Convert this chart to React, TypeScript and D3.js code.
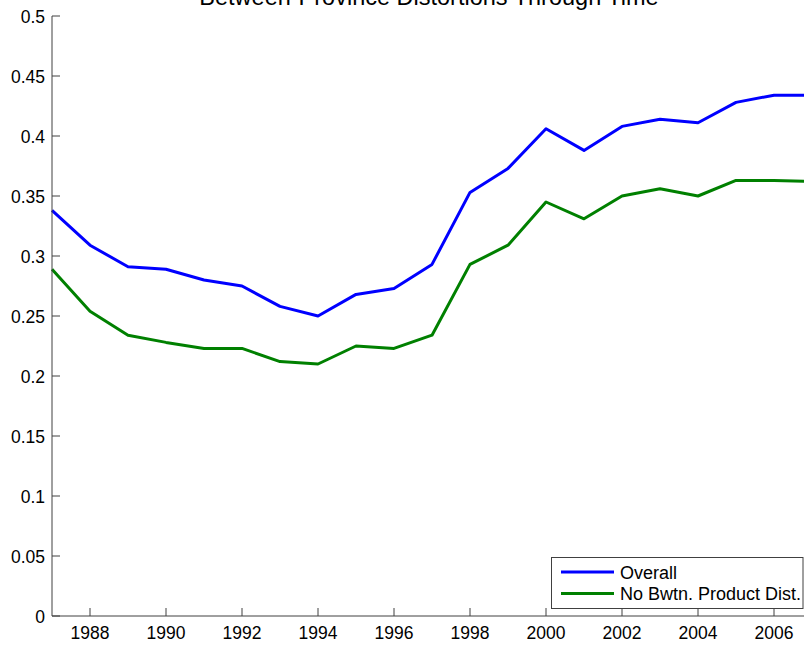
import React from "react";
import * as d3 from "d3";

const years = [1987, 1988, 1989, 1990, 1991, 1992, 1993, 1994, 1995, 1996, 1997, 1998, 1999, 2000, 2001, 2002, 2003, 2004, 2005, 2006, 2007];
const overall = [0.338, 0.309, 0.291, 0.289, 0.280, 0.275, 0.258, 0.250, 0.268, 0.273, 0.293, 0.353, 0.373, 0.406, 0.388, 0.408, 0.414, 0.411, 0.428, 0.434, 0.434];
const noBwtn = [0.289, 0.254, 0.234, 0.228, 0.223, 0.223, 0.212, 0.210, 0.225, 0.223, 0.234, 0.293, 0.309, 0.345, 0.331, 0.350, 0.356, 0.350, 0.363, 0.363, 0.362];
const xTicks = [1988, 1990, 1992, 1994, 1996, 1998, 2000, 2002, 2004, 2006];
const yTicks = [0, 0.05, 0.1, 0.15, 0.2, 0.25, 0.3, 0.35, 0.4, 0.45, 0.5];
const seriesNames = ["Overall", "No Bwtn. Product Dist."];
const seriesColors = ["#0000ff", "#008000"];
const title = "Between-Province Distortions Through Time";

export default function App() {
  const W = 804, H = 645;
  const left = 52, right = 812, top = 16, bottom = 616;
  const x = d3.scaleLinear().domain([1987, 2007]).range([left, right]);
  const y = d3.scaleLinear().domain([0, 0.5]).range([bottom, top]);
  const line = d3.line<number>().x((_, i) => x(years[i])).y((d) => y(d));
  const series = [overall, noBwtn];
  const font = "'Liberation Sans', Arial, Helvetica, sans-serif";
  const axisColor = "#404040";
  return (
    <svg width={W} height={H} style={{ position: "absolute", left: 0, top: 0, background: "#fff" }} fontFamily={font}>
      <rect x={0} y={0} width={W} height={H} fill="#fff" />
      <text x={429} y={5} textAnchor="middle" fontSize={23.5} fill="#000">{title}</text>
      {series.map((s, i) => (
        <path key={i} d={line(s) || ""} fill="none" stroke={seriesColors[i]} strokeWidth={3} strokeLinejoin="round" />
      ))}
      <line x1={left} x2={left} y1={top} y2={bottom} stroke={axisColor} strokeWidth={1} />
      <line x1={left} x2={right} y1={bottom} y2={bottom} stroke={axisColor} strokeWidth={1} />
      {yTicks.map((t) => (
        <g key={t}>
          <line x1={left} x2={left + 8} y1={y(t)} y2={y(t)} stroke={axisColor} />
          <text x={left - 7} y={y(t) + 6.5} textAnchor="end" fontSize={17.5} fill="#000">{d3.format("~g")(t)}</text>
        </g>
      ))}
      {xTicks.map((t) => (
        <g key={t}>
          <line x1={x(t)} x2={x(t)} y1={bottom} y2={bottom - 8} stroke={axisColor} />
          <text x={x(t)} y={638.5} textAnchor="middle" fontSize={17.5} fill="#000">{t}</text>
        </g>
      ))}
      <rect x={551.5} y={557.5} width={251.5} height={51} fill="#fff" stroke={axisColor} strokeWidth={1} />
      {seriesNames.map((n, i) => (
        <g key={n}>
          <line x1={561} x2={614} y1={572 + i * 21.5} y2={572 + i * 21.5} stroke={seriesColors[i]} strokeWidth={3} />
          <text x={620} y={572 + i * 21.5 + 6.5} fontSize={18} fill="#000">{n}</text>
        </g>
      ))}
    </svg>
  );
}
